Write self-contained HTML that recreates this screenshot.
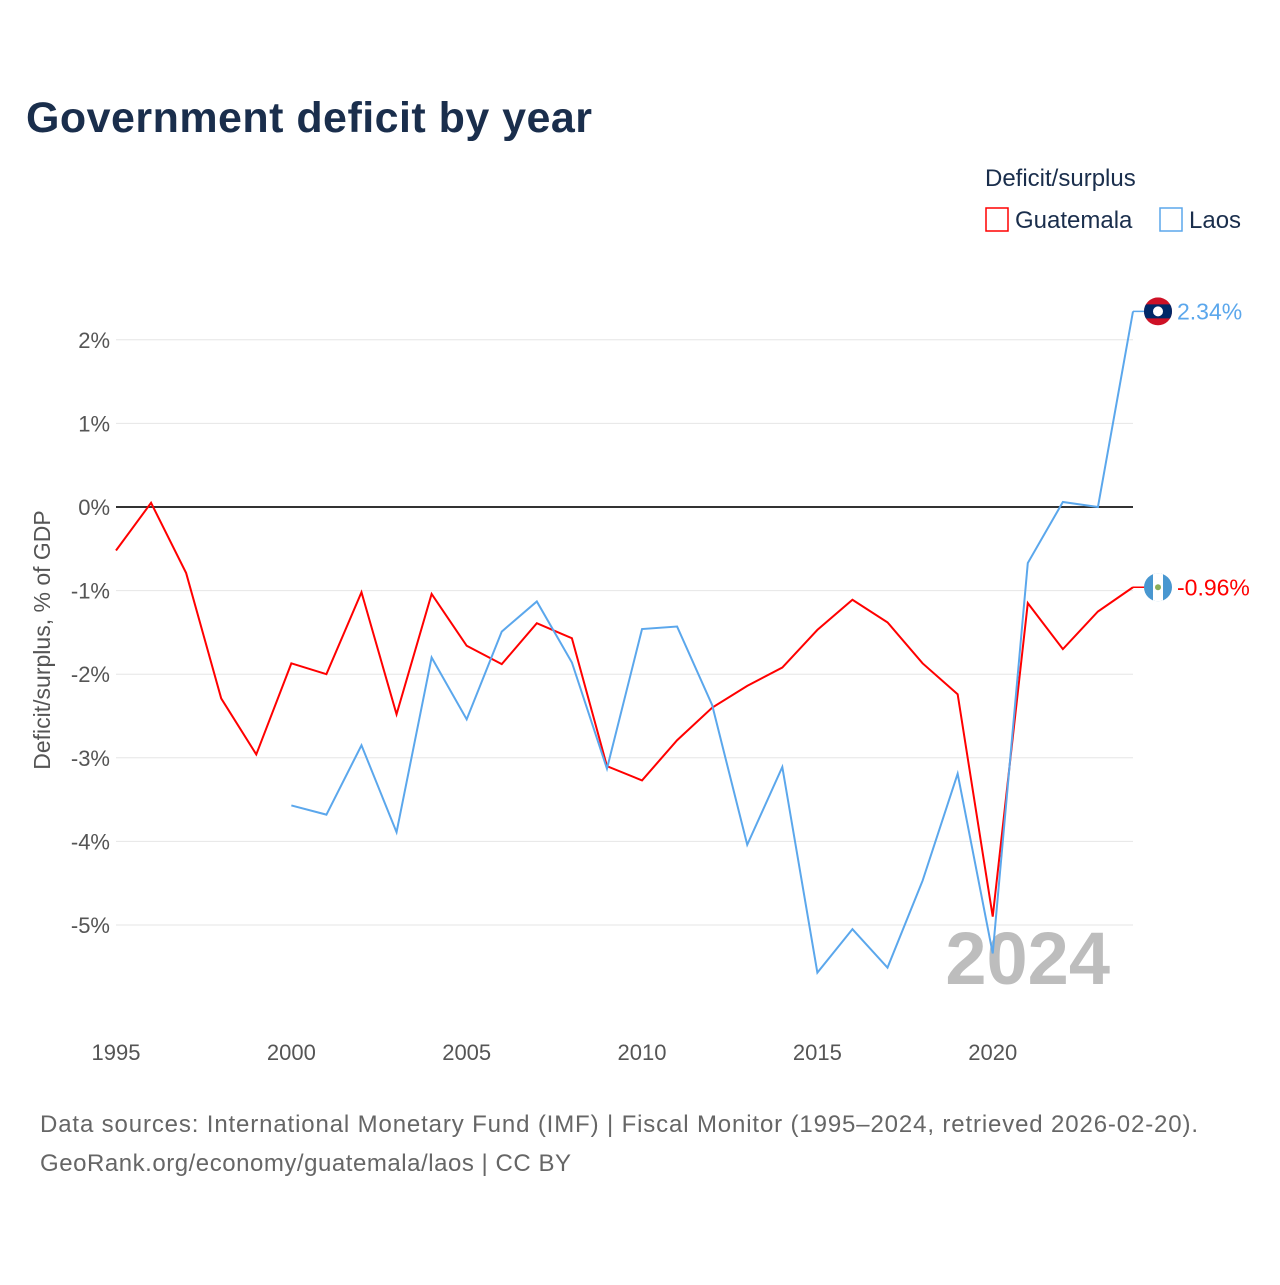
<!DOCTYPE html>
<html><head><meta charset="utf-8"><style>
body{margin:0;background:#fff;font-family:"Liberation Sans",sans-serif}
svg text{font-family:"Liberation Sans",sans-serif}
</style></head><body>
<svg id="chart" width="1280" height="1280" viewBox="0 0 1280 1280">
<defs>
<clipPath id="cg"><circle cx="1158" cy="587" r="14"/></clipPath>
<clipPath id="cl"><circle cx="1158" cy="311" r="14"/></clipPath>
</defs>
<text x="26" y="132" font-size="43" font-weight="bold" fill="#1a2e4c" textLength="566">Government deficit by year</text>
<text x="985" y="186" font-size="24" fill="#1a2e4c">Deficit/surplus</text>
<g><rect x="986" y="208" width="22" height="23" fill="none" stroke="#ff0000" stroke-width="1.5"/><text x="1015" y="228" font-size="24" fill="#1a2e4c">Guatemala</text></g>
<g><rect x="1160" y="208" width="22" height="23" fill="none" stroke="#5ba7ec" stroke-width="1.5"/><text x="1189" y="228" font-size="24" fill="#1a2e4c">Laos</text></g>
<g id="grid"></g>
<g id="yticks"></g>
<g id="xticks"></g>
<text x="1110" y="984" font-size="74" font-weight="bold" fill="#bdbdbd" text-anchor="end">2024</text>
<text transform="translate(50,640) rotate(-90)" font-size="23" fill="#555" text-anchor="middle">Deficit/surplus, % of GDP</text>
<g id="series"></g>
<text x="40" y="1132" font-size="24" fill="#666" textLength="1158">Data sources: International Monetary Fund (IMF) | Fiscal Monitor (1995–2024, retrieved 2026-02-20).</text>
<text x="40" y="1171" font-size="24" fill="#666" textLength="531">GeoRank.org/economy/guatemala/laos | CC BY</text>
</svg>
<script>
const years=[1995,1996,1997,1998,1999,2000,2001,2002,2003,2004,2005,2006,2007,2008,2009,2010,2011,2012,2013,2014,2015,2016,2017,2018,2019,2020,2021,2022,2023,2024];
const guatemala=[-0.52,0.05,-0.79,-2.29,-2.96,-1.87,-2.0,-1.02,-2.48,-1.04,-1.66,-1.88,-1.39,-1.57,-3.1,-3.27,-2.79,-2.4,-2.14,-1.92,-1.47,-1.11,-1.38,-1.87,-2.24,-4.9,-1.15,-1.7,-1.25,-0.96];
const laos=[null,null,null,null,null,-3.57,-3.68,-2.85,-3.89,-1.8,-2.54,-1.49,-1.13,-1.86,-3.13,-1.46,-1.43,-2.37,-4.04,-3.11,-5.57,-5.05,-5.51,-4.47,-3.19,-5.34,-0.67,0.06,0,2.34];
const yTicks=[2,1,0,-1,-2,-3,-4,-5];
const xTicks=[1995,2000,2005,2010,2015,2020];
const NS='http://www.w3.org/2000/svg';
const X=y=>116+(y-1995)*(1133-116)/29;
const Y=v=>507-v*83.6;
function mk(tag,attrs,parent){const e=document.createElementNS(NS,tag);for(const k in attrs)e.setAttribute(k,attrs[k]);parent.appendChild(e);return e;}
const grid=document.getElementById('grid'),yt=document.getElementById('yticks'),xt=document.getElementById('xticks'),ser=document.getElementById('series');
yTicks.forEach(v=>{
 const l=mk('line',{x1:116,x2:1133,y1:Y(v),y2:Y(v),stroke:v===0?'#333':'#e6e6e6','stroke-width':v===0?2:1},grid);
 
 
 const t=mk('text',{x:110,y:Y(v)+8,'font-size':22,fill:'#555','text-anchor':'end'},yt);
 t.textContent=v+'%';
 
 
});
xTicks.forEach(v=>{
 const t=mk('text',{x:X(v),y:1060,'font-size':22,fill:'#555','text-anchor':'middle'},xt);
 t.textContent=v;
 
 
});
function line(vals,color,name){
 let d='';vals.forEach((v,i)=>{if(v===null)return;d+=(d?'L':'M')+X(years[i])+','+Y(v);});
 const p=mk('path',{d:d,fill:'none',stroke:color,'stroke-width':2},ser);
 
 
 const last=vals[vals.length-1],ly=Y(last),lx=X(years[years.length-1]);
 mk('line',{x1:lx,x2:lx+12,y1:ly,y2:ly,stroke:color,'stroke-width':1.5},ser);
 const t=mk('text',{x:lx+44,y:ly+8,'font-size':23,fill:color},ser);
 t.textContent=last.toFixed(2)+'%';
 
 
 return ly;
}
const gy=line(guatemala,'#ff0000','guatemala-line');
const ly=line(laos,'#5ba7ec','laos-line');
document.querySelector('#cg circle').setAttribute('cy',gy);
document.querySelector('#cl circle').setAttribute('cy',ly);
const gf=mk('g',{'clip-path':'url(#cg)'},ser);


mk('rect',{x:1144,y:gy-14,width:28,height:28,fill:'#4997d0'},gf);
mk('rect',{x:1153,y:gy-14,width:10,height:28,fill:'#fff'},gf);
mk('circle',{cx:1158,cy:gy,r:3,fill:'#8aae5a'},gf);
const lf=mk('g',{'clip-path':'url(#cl)'},ser);


mk('rect',{x:1144,y:ly-14,width:28,height:28,fill:'#ce1126'},lf);
mk('rect',{x:1144,y:ly-7,width:28,height:14,fill:'#002868'},lf);
mk('circle',{cx:1158,cy:ly,r:5,fill:'#fff'},lf);
</script>
</body></html>
